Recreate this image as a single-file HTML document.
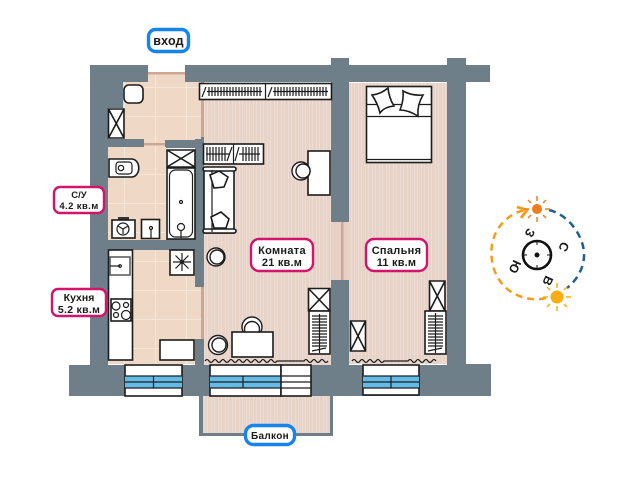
<!DOCTYPE html>
<html><head><meta charset="utf-8"><style>
html,body{margin:0;padding:0;background:#fff;width:640px;height:480px;overflow:hidden}
svg{display:block}
text{font-family:"Liberation Sans",sans-serif;fill:#1a1a1a;font-weight:700;text-anchor:middle}
.f{fill:#fff;stroke:#1c1c1c;stroke-width:1.6}
.l{fill:none;stroke:#1c1c1c;stroke-width:1.2}
.c{fill:#fff;stroke:#1c1c1c;stroke-width:1.4}
.w{fill:#6f7f8a}
.d{fill:#cda793}
.lb{fill:#fff;stroke:#d1146c;stroke-width:2.4}
.bl{fill:#fff;stroke:#1684ee;stroke-width:3.4}
</style></head><body>
<svg width="640" height="480" viewBox="0 0 640 480" xmlns="http://www.w3.org/2000/svg">
<defs>
<pattern id="st" width="7" height="10" patternUnits="userSpaceOnUse"><rect width="7" height="10" fill="#e8d3c8"/><rect x="1" width="1" height="10" fill="#eddcd3"/><rect x="4" width="1" height="10" fill="#eddcd3"/></pattern>
<pattern id="tl" width="31" height="29" patternUnits="userSpaceOnUse"><rect width="31" height="29" fill="#efd8c6"/><rect x="0" width="1" height="29" fill="#f5e6da"/><rect y="0" width="31" height="1" fill="#f5e6da"/></pattern>
</defs>
<!-- floors -->
<rect x="123" y="73" width="80" height="72" fill="url(#tl)"/>
<rect x="331" y="222" width="18" height="58" fill="#e7d1c6"/>
<rect x="199" y="396" width="134" height="40" fill="#6f7f8a"/>
<rect x="203" y="396" width="127" height="37" fill="url(#st)"/>
<!-- walls -->
<path class="w" d="M90 65H148V82H123V108H108V365H69V396H491V364H466V82H490V65H466V58H447V65H349V58H331V65H185V82H331V222H349V82H447V365H349V280H331V365H204V339H195V365H90Z"/>
<rect class="w" x="90" y="65" width="18" height="300"/>
<rect class="w" x="108" y="139" width="36" height="8"/>
<rect class="w" x="165" y="140" width="39" height="8"/>
<rect class="w" x="195" y="137" width="9" height="150"/>
<rect class="w" x="165" y="239" width="39" height="11"/>
<rect class="w" x="108" y="240" width="87" height="10"/>
<rect class="w" x="195" y="339" width="9" height="26"/>
<!-- floors over walls -->
<rect x="123" y="82" width="78" height="57" fill="url(#tl)"/>
<rect x="144" y="139" width="21" height="8" fill="url(#tl)"/>
<rect x="108" y="147" width="58" height="93" fill="url(#tl)"/>
<rect x="108" y="250" width="87" height="114" fill="url(#tl)"/>
<rect x="195" y="287" width="6" height="52" fill="url(#tl)"/>
<rect x="204" y="83" width="127" height="282" fill="url(#st)"/>
<rect x="201" y="82" width="3" height="55" class="d"/>
<rect x="201" y="287" width="3" height="52" class="d"/>
<rect x="349" y="83" width="98" height="281" fill="url(#st)"/>
<rect x="148" y="72" width="37" height="2.5" class="d"/>
<rect x="144" y="143" width="21" height="2.5" class="d"/>
<rect x="341" y="222" width="2.5" height="58" class="d"/>
<!-- windows -->
<g>
<rect class="f" x="125" y="365" width="57" height="31"/>
<rect x="125" y="376" width="57" height="12" fill="#63bce8"/>
<path class="l" d="M125 376H182M125 382H182M125 388H182M153.500 376V388"/>
<rect class="f" x="210" y="365" width="71" height="31"/>
<rect x="210" y="376" width="71" height="12" fill="#63bce8"/>
<path class="l" d="M210 376H281M210 382H281M210 388H281M243 376V388"/>
<rect class="f" x="281" y="365" width="30" height="31"/>
<path class="l" d="M281 376H311M281 382H311M281 388H311"/>
<rect class="f" x="363" y="365" width="56" height="30"/>
<rect x="363" y="376" width="56" height="12" fill="#63bce8"/>
<path class="l" d="M363 376H419M363 382H419M363 388H419M391 376V388"/>
</g>
<!-- hall -->
<rect class="f" x="124" y="85" width="19" height="18" rx="5"/>
<path class="f" d="M108.500 109H124V138H108.500ZM108.500 109L124 138M124 109L108.500 138"/>
<!-- wardrobes -->
<rect class="f" x="199.500" y="83.500" width="132" height="16"/>
<path class="l" d="M265.500 83.500V99.500M202 97L206 87M207 91.500H262M209 87V96M212 87V96M215 87V96M218 87V96M221 87V96M224 87V96M227 87V96M230 87V96M233 87V96M236 87V96M239 87V96M242 87V96M245 87V96M248 87V96M251 87V96M254 87V96M257 87V96M260 87V96M268 97L272 87M273 91.500H328M275 87V96M278 87V96M281 87V96M284 87V96M287 87V96M290 87V96M293 87V96M296 87V96M299 87V96M302 87V96M305 87V96M308 87V96M311 87V96M314 87V96M317 87V96M320 87V96M323 87V96M326 87V96"/>
<rect class="f" x="203.500" y="144" width="60" height="20"/>
<path class="l" d="M233.500 144V164M206 154H229M207 147V161M210 147V161M213 147V161M216 147V161M219 147V161M222 147V161M225 147V161M227 161L232 147M235 161L239 147M239 154H260M243 147V161M246 147V161M249 147V161M252 147V161M255 147V161M258 147V161"/>
<!-- sofa -->
<rect class="f" x="204" y="169" width="30" height="64"/>
<rect class="f" x="203" y="167" width="33" height="4" rx="2"/>
<rect class="f" x="203" y="229" width="33" height="4" rx="2"/>
<path class="l" d="M212 170V232"/>
<path class="f" d="M210 175L219 171L228 177L224 187L214 188Z"/>
<path class="f" d="M211 217L221 212L229 219L226 228L214 228Z"/>
<!-- table & chairs in room -->
<rect class="f" x="308" y="151" width="22" height="44"/>
<circle class="c" cx="301" cy="171" r="9"/><circle class="c" cx="303" cy="171" r="7"/>
<circle class="c" cx="216" cy="257" r="9"/><circle class="c" cx="217" cy="257" r="7"/>
<circle class="c" cx="218" cy="345" r="9.500"/><circle class="c" cx="219" cy="345" r="7"/>
<circle class="c" cx="252" cy="327" r="10"/><circle class="c" cx="252" cy="329" r="7.500"/>
<rect class="f" x="232" y="332" width="41" height="25"/>
<path class="f" d="M308.500 288.500H330V311H308.500ZM308.500 288.500L330 311M330 288.500L308.500 311"/>
<rect class="f" x="309" y="311" width="21" height="43"/>
<path class="l" d="M319.500 314V353M312 316H327M312 319H327M312 322H327M312 325H327M312 328H327M312 331H327M312 334H327M312 337H327M312 340H327M312 343H327M312 346H327M312 351L326 348"/>
<path d="M205 361q2-3 4 0t4 0t4 0t4 0t4 0t4 0t4 0t4 0t4 0t4 0t4 0t4 0t4 0t4 0t4 0t4 0t4 0t4 0H304q2-3 4 0t4 0t4 0t4 0t4 0t4 0" class="l"/>
<!-- bedroom -->
<rect class="f" x="366.500" y="86.500" width="65" height="76"/>
<path class="l" stroke-width="1.500" d="M366.500 104.500H431.500M366.500 116.500H431.500M366.500 159.500H431.500"/>
<path class="f" d="M372 95Q381 94 388 88Q389 98 394 106Q384 107 380 113Q378 104 372 95Z"/>
<path class="f" d="M403 91Q412 96 423 95Q417 105 418 116Q408 110 400 110Q404 100 403 91Z"/>
<path class="f" d="M429.500 281H445V311H429.500ZM429.500 281L445 311M445 281L429.500 311"/>
<rect class="f" x="425" y="311" width="21" height="43"/>
<path class="l" d="M435.500 313V353M428 316H443M428 319H443M428 322H443M428 325H443M428 328H443M428 331H443M428 334H443M428 337H443M428 340H443M428 343H443M428 346H443M428 351L442 348"/>
<path class="f" d="M350.500 321H365.500V351H350.500ZM350.500 321L365.500 351M365.500 321L350.500 351"/>
<path d="M352 361q2-3 4 0t4 0t4 0t4 0t4 0t4 0t4 0t4 0H408q2-3 4 0t4 0t4 0t4 0t4 0t4 0t4 0" class="l"/>
<!-- bathroom -->
<path class="f" d="M109 159H132C141 160 141 176 132 177H109Z"/>
<rect class="l" x="116" y="162" width="16" height="12" rx="3"/><circle class="l" cx="121" cy="168" r="2.700"/>
<rect x="118" y="217" width="11" height="2.500" fill="#333"/>
<rect class="f" x="112" y="220" width="23" height="18"/>
<circle class="l" cx="123" cy="229" r="6"/><path class="l" d="M123 229L118 226M123 229L128 226M123 229V234"/>
<rect class="f" x="141.500" y="219.500" width="18" height="19"/>
<circle class="l" cx="151" cy="228" r="1.500"/><path class="l" d="M151 229V238"/>
<path class="f" d="M167 150H195V167H167ZM167 150L195 167M195 150L167 167"/>
<rect class="f" x="167" y="168" width="28" height="71"/>
<rect class="l" x="169.500" y="170" width="23" height="67" rx="6"/>
<circle class="l" cx="181" cy="202" r="1.500"/>
<circle class="l" cx="181" cy="227" r="3.500"/><path class="l" d="M181 230V238"/>
<!-- kitchen -->
<rect class="f" x="108.500" y="250" width="24" height="110"/>
<rect x="110" y="257" width="20" height="18" fill="#fff" stroke="#555" stroke-width="1.500"/>
<path class="l" d="M110 266H120"/><circle class="l" cx="120" cy="266" r="1.300"/>
<rect class="f" x="111" y="299" width="20" height="22"/>
<circle class="l" cx="116" cy="306" r="4"/><circle class="l" cx="126" cy="305" r="2.500"/><circle class="l" cx="116" cy="315" r="2.500"/><circle class="l" cx="126" cy="315" r="4.500"/>
<rect class="f" x="170" y="250" width="24" height="25"/>
<path class="l" d="M182 253V271M173 262H191M175.500 255.500L188.500 268.500M188.500 255.500L175.500 268.500"/>
<circle cx="182" cy="262" r="2" fill="#222"/>
<rect class="f" x="160" y="340" width="34" height="20"/>
<!-- labels -->
<rect class="bl" x="148.500" y="29.500" width="40" height="22" rx="7"/>
<text x="168.500" y="45" font-size="12.500" letter-spacing=".2">вход</text>
<rect class="lb" x="54" y="187" width="50" height="26" rx="6"/>
<text x="79" y="198" font-size="9.500">С/У</text><text x="79" y="209" font-size="9.500" letter-spacing=".4">4.2 кв.м</text>
<rect class="lb" x="52" y="289" width="54" height="27" rx="6"/>
<text x="79" y="301" font-size="10.500">Кухня</text><text x="79" y="313" font-size="10.500" letter-spacing=".3">5.2 кв.м</text>
<rect class="lb" x="251" y="239" width="62" height="32" rx="8"/>
<text x="282" y="254" font-size="11" letter-spacing=".3">Комната</text><text x="282" y="266" font-size="11" letter-spacing=".2">21 кв.м</text>
<rect class="lb" x="366" y="239" width="61" height="32" rx="8"/>
<text x="396.500" y="254" font-size="11" letter-spacing=".3">Спальня</text><text x="396.500" y="266" font-size="11" letter-spacing=".2">11 кв.м</text>
<rect class="bl" x="245.500" y="425.500" width="49" height="19" rx="8"/>
<text x="270" y="439" font-size="10" letter-spacing=".3">Балкон</text>
<!-- compass -->
<g fill="none">
<path d="M546 298C530 302 510 296 500 281C488 264 489 240 500 226C508 216 516 212 525 210" stroke="#f59c1f" stroke-width="2.500" stroke-dasharray="7 5"/>
<path d="M517 207L527 210L521 218" stroke="#f59c1f" stroke-width="2.800"/>
<path d="M549 210C566 214 582 232 584 252C585 268 576 281 567 288" stroke="#1c5f94" stroke-width="2.500" stroke-dasharray="7 5"/>
<circle cx="537" cy="255" r="14" stroke="#111" stroke-width="2.600"/>
<path d="M537 241V245M537 265V269M523 255H527M547 255H551" stroke="#111" stroke-width="1"/>
<path d="M537 196V201M537 217V222M524 209H529M545 209H550M528 200L531 203M546 200L543 203M528 218L531 215M546 218L543 215" stroke="#ef7f22" stroke-width="1.500"/>
<path d="M557 283V288M557 306V311M543 297H548M566 297H571M547 287L550 290M567 287L564 290M547 307L550 304M567 307L564 304" stroke="#f9ad13" stroke-width="1.500"/>
</g>
<circle cx="537" cy="255" r="2.500" fill="#111"/>
<circle cx="537" cy="209" r="5" fill="#ee7a1c"/>
<circle cx="557" cy="297" r="6.500" fill="#f9ad13"/>
<text font-size="12.500" transform="translate(526,231) rotate(115)">З</text>
<text font-size="12.500" transform="translate(560,245) rotate(115)">С</text>
<text font-size="12.500" transform="translate(511,265) rotate(115)">Ю</text>
<text font-size="12.500" transform="translate(544,279) rotate(115)">В</text>
</svg>
</body></html>
